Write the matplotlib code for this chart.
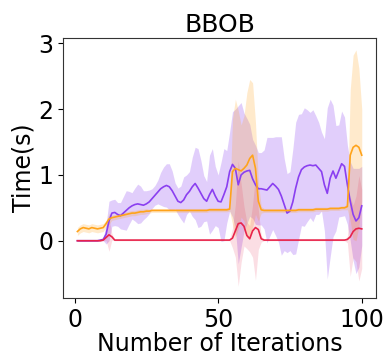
import matplotlib
matplotlib.use("Agg")
import matplotlib.pyplot as plt
import numpy as np

iterations = list(range(1, 101))

purple_mean = [0.00, 0.00, 0.00, 0.00, 0.00, 0.00, 0.00, 0.00, 0.01, 0.02,
               0.10, 0.30, 0.42, 0.43, 0.40, 0.38, 0.42, 0.46, 0.50, 0.53,
               0.55, 0.56, 0.55, 0.54, 0.56, 0.59, 0.64, 0.69, 0.74, 0.79,
               0.82, 0.84, 0.82, 0.76, 0.68, 0.60, 0.58, 0.62, 0.70, 0.75,
               0.82, 0.87, 0.80, 0.72, 0.64, 0.60, 0.70, 0.78, 0.68, 0.60,
               0.59, 0.70, 0.82, 1.05, 1.16, 1.10, 0.85, 1.00, 1.04, 1.06,
               1.07, 0.94, 0.85, 0.79, 0.79, 0.78, 0.77, 0.82, 0.87, 0.83,
               0.78, 0.68, 0.55, 0.42, 0.45, 0.59, 0.80, 0.97, 1.08, 1.12,
               1.14, 1.15, 1.14, 1.15, 1.10, 1.05, 0.85, 0.72, 0.95, 1.06,
               0.95, 1.06, 1.17, 1.13, 0.85, 0.60, 0.40, 0.30, 0.35, 0.53]
purple_std = [0.01, 0.01, 0.01, 0.01, 0.01, 0.01, 0.01, 0.01, 0.01, 0.02,
              0.15, 0.30, 0.20, 0.20, 0.18, 0.20, 0.25, 0.30, 0.25, 0.20,
              0.25, 0.30, 0.28, 0.22, 0.20, 0.18, 0.15, 0.15, 0.18, 0.25,
              0.30, 0.33, 0.35, 0.30, 0.20, 0.20, 0.25, 0.35, 0.30, 0.30,
              0.45, 0.55, 0.60, 0.50, 0.35, 0.30, 0.60, 0.62, 0.45, 0.40,
              0.60, 0.70, 0.55, 0.60, 0.80, 0.90, 1.20, 1.10, 0.90, 0.80,
              0.70, 0.60, 0.60, 0.55, 0.55, 0.60, 0.80, 0.75, 0.70, 0.75,
              0.80, 0.90, 0.70, 0.60, 0.60, 0.80, 1.00, 0.95, 0.85, 0.90,
              0.85, 0.80, 0.85, 0.75, 0.70, 0.60, 0.70, 1.30, 1.20, 1.00,
              0.80, 0.70, 0.80, 0.75, 0.60, 0.60, 0.70, 0.80, 0.75, 0.60]

orange_mean = [0.14, 0.18, 0.20, 0.19, 0.18, 0.20, 0.19, 0.18, 0.19, 0.20,
               0.26, 0.33, 0.35, 0.36, 0.37, 0.38, 0.39, 0.40, 0.41, 0.42,
               0.42, 0.43, 0.44, 0.44, 0.45, 0.45, 0.46, 0.46, 0.46, 0.46,
               0.46, 0.46, 0.46, 0.46, 0.46, 0.46, 0.46, 0.46, 0.46, 0.46,
               0.46, 0.46, 0.46, 0.46, 0.46, 0.46, 0.47, 0.47, 0.47, 0.47,
               0.47, 0.47, 0.47, 0.48, 1.05, 1.10, 1.08, 1.06, 1.10, 1.15,
               1.25, 1.30, 1.10, 0.60, 0.47, 0.46, 0.46, 0.46, 0.46, 0.46,
               0.46, 0.46, 0.46, 0.46, 0.46, 0.46, 0.46, 0.47, 0.47, 0.47,
               0.47, 0.47, 0.47, 0.48, 0.48, 0.48, 0.48, 0.48, 0.49, 0.49,
               0.49, 0.49, 0.50, 0.50, 0.52, 1.30, 1.42, 1.45, 1.42, 1.30]
orange_std = [0.06, 0.06, 0.06, 0.06, 0.06, 0.06, 0.06, 0.06, 0.06, 0.06,
              0.05, 0.08, 0.04, 0.04, 0.04, 0.04, 0.04, 0.04, 0.04, 0.04,
              0.04, 0.04, 0.04, 0.04, 0.04, 0.03, 0.03, 0.03, 0.03, 0.03,
              0.03, 0.03, 0.03, 0.03, 0.03, 0.03, 0.03, 0.03, 0.03, 0.03,
              0.03, 0.03, 0.03, 0.03, 0.03, 0.03, 0.03, 0.03, 0.03, 0.03,
              0.03, 0.03, 0.03, 0.03, 0.80, 1.05, 0.90, 0.70, 0.80, 1.10,
              1.20, 1.10, 0.70, 0.30, 0.05, 0.03, 0.03, 0.03, 0.03, 0.03,
              0.03, 0.03, 0.03, 0.03, 0.03, 0.03, 0.03, 0.03, 0.03, 0.03,
              0.03, 0.03, 0.03, 0.03, 0.03, 0.03, 0.03, 0.03, 0.03, 0.03,
              0.03, 0.03, 0.03, 0.03, 0.05, 1.00, 1.40, 1.45, 1.20, 0.70]

red_mean = [0.00, 0.00, 0.00, 0.00, 0.00, 0.00, 0.00, 0.00, 0.00, 0.01,
            0.05, 0.09, 0.06, 0.01, 0.01, 0.01, 0.01, 0.01, 0.01, 0.01,
            0.01, 0.01, 0.01, 0.01, 0.01, 0.01, 0.01, 0.01, 0.01, 0.01,
            0.01, 0.01, 0.01, 0.01, 0.01, 0.01, 0.01, 0.01, 0.01, 0.01,
            0.01, 0.01, 0.01, 0.01, 0.01, 0.01, 0.01, 0.01, 0.01, 0.01,
            0.01, 0.01, 0.01, 0.01, 0.04, 0.15, 0.26, 0.27, 0.22, 0.08,
            0.03, 0.15, 0.20, 0.17, 0.03, 0.01, 0.01, 0.01, 0.01, 0.01,
            0.01, 0.01, 0.01, 0.01, 0.01, 0.01, 0.01, 0.01, 0.01, 0.01,
            0.01, 0.01, 0.01, 0.01, 0.01, 0.01, 0.01, 0.01, 0.01, 0.01,
            0.01, 0.01, 0.01, 0.01, 0.02, 0.06, 0.14, 0.18, 0.19, 0.18]
red_std = [0.005, 0.005, 0.005, 0.005, 0.005, 0.005, 0.005, 0.005, 0.005, 0.01,
           0.05, 0.25, 0.05, 0.01, 0.01, 0.01, 0.01, 0.01, 0.01, 0.01,
           0.01, 0.01, 0.01, 0.01, 0.01, 0.01, 0.01, 0.01, 0.01, 0.01,
           0.01, 0.01, 0.01, 0.01, 0.01, 0.01, 0.01, 0.01, 0.01, 0.01,
           0.01, 0.01, 0.01, 0.01, 0.01, 0.01, 0.01, 0.01, 0.01, 0.01,
           0.01, 0.01, 0.01, 0.01, 0.15, 0.40, 0.95, 0.60, 0.30, 0.20,
           0.20, 0.40, 0.80, 0.30, 0.05, 0.01, 0.01, 0.01, 0.01, 0.01,
           0.01, 0.01, 0.01, 0.01, 0.01, 0.01, 0.01, 0.01, 0.01, 0.01,
           0.01, 0.01, 0.01, 0.01, 0.01, 0.01, 0.01, 0.01, 0.01, 0.01,
           0.01, 0.01, 0.01, 0.01, 0.05, 0.60, 0.40, 0.50, 0.80, 0.60]

x_ticks = [0, 50, 100]
y_ticks = [0, 1, 2, 3]

series = [
    (purple_mean, purple_std, "#8a3ff0", 0.25),
    (orange_mean, orange_std, "#ffa31a", 0.22),
    (red_mean, red_std, "#e8234a", 0.15),
]

fig = plt.figure(figsize=(3.9, 3.59), dpi=100)
ax = fig.add_axes([0.162, 0.170, 0.802, 0.724])

x = np.array(iterations)
for mean, std, color, a in series:
    m = np.array(mean)
    s = np.array(std)
    ax.fill_between(x, m - s, m + s, color=color, alpha=a, linewidth=0)
for mean, std, color, a in series:
    ax.plot(x, mean, color=color, linewidth=1.2)

ax.set_xticks(x_ticks)
ax.set_yticks(y_ticks)
ax.tick_params(labelsize=17)
ax.set_title("BBOB", fontsize=18, pad=4)
ax.set_xlabel("Number of Iterations", fontsize=17, labelpad=0)
ax.set_ylabel("Time(s)", fontsize=17, labelpad=2)
for sp in ax.spines.values():
    sp.set_color("#333333")

fig.savefig("out.png", dpi=100)
